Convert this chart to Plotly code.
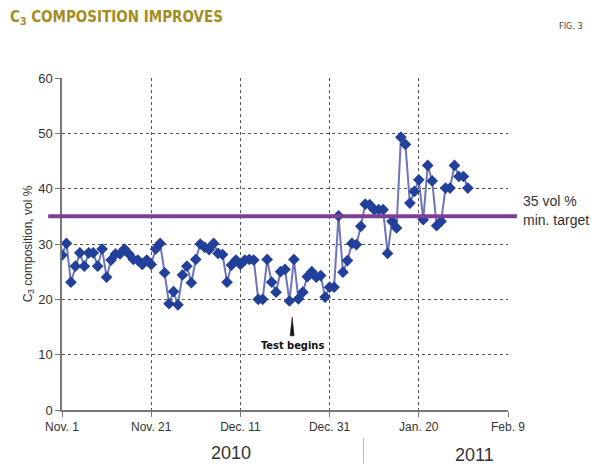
import plotly.graph_objects as go
import pandas as pd

start_date = "2010-11-01"
c3_values = [
    28.0, 30.1, 23.1, 26.0, 28.4, 26.0, 28.4, 28.4, 26.0, 29.1,
    24.0, 27.1, 28.2, 28.2, 29.1, 28.2, 27.2, 27.1, 26.3, 27.1,
    26.3, 29.1, 30.1, 24.8, 19.2, 21.4, 19.0, 24.4, 26.0, 23.0,
    27.2, 30.0, 29.4, 29.0, 30.1,
    28.3, 28.1, 23.1, 26.2, 27.1, 26.3, 27.1, 27.2, 27.1, 20.0,
    20.0, 27.2, 23.1, 21.3, 25.0, 25.4, 19.7, 27.2, 20.1, 21.3,
    24.1, 25.0, 24.0, 24.3, 20.4, 22.2, 22.2,
    35.1, 24.9, 27.0, 30.1, 29.9, 33.2, 37.2, 37.1, 36.2, 36.2,
    36.2, 28.3, 34.1, 32.9, 49.3, 48.0, 37.4, 39.5, 41.6, 34.4,
    44.2, 41.4, 33.3, 34.1, 40.1, 40.1, 44.2, 42.2, 42.2, 40.1,
]
dates = pd.date_range(start_date, periods=len(c3_values), freq="D")
days = list((dates - pd.Timestamp(start_date)).days)

tick_days = [0, 20, 40, 60, 80, 100]
tick_labels = ["Nov. 1", "Nov. 21", "Dec. 11", "Dec. 31", "Jan. 20", "Feb. 9"]
y_ticks = [0, 10, 20, 30, 40, 50, 60]
target = 35
test_start_day = 51.6
year_labels = ["2010", "2011"]

font_main = "Liberation Sans, Arial, sans-serif"
font_cond = "DejaVu Sans Condensed, Liberation Sans Narrow, Roboto Condensed, Roboto, sans-serif"

fig = go.Figure()
fig.add_trace(go.Scatter(
    x=days, y=c3_values, mode="lines+markers",
    line=dict(color="#6e74b8", width=2),
    marker=dict(symbol="diamond", size=9, color="#22409a"),
    hoverinfo="x+y", showlegend=False,
))

fig.update_layout(
    width=600, height=466,
    margin=dict(l=62, r=92, t=78, b=56),
    paper_bgcolor="white", plot_bgcolor="white",
    font=dict(family=font_main, color="#333333"),
    xaxis=dict(
        range=[0, 100], tickmode="array", tickvals=tick_days, ticktext=tick_labels,
        showgrid=True, gridcolor="#555555", griddash="dot", gridwidth=1,
        showline=True, linecolor="#777777", linewidth=1.5,
        ticks="outside", ticklen=5, tickcolor="#777777",
        tickfont=dict(size=12, color="#333333"), zeroline=False, automargin=False,
    ),
    yaxis=dict(
        range=[0, 60], tickmode="array", tickvals=y_ticks,
        showgrid=True, gridcolor="#555555", griddash="dot", gridwidth=1,
        showline=True, linecolor="#777777", linewidth=1.5,
        ticks="outside", ticklen=5, tickcolor="#777777",
        tickfont=dict(size=13, color="#333333"), zeroline=False, automargin=False,
        title=dict(text="C<sub>3</sub> composition, vol %", font=dict(size=12, color="#333333"), standoff=3),
    ),
)

# Target line
fig.add_shape(type="line", xref="paper", yref="y", x0=-0.031, x1=1.02, y0=target, y1=target,
              line=dict(color="#7d3f98", width=4), layer="above")
fig.add_annotation(xref="paper", yref="y", x=1.03, y=target + 1.0, xanchor="left", yanchor="bottom",
                   text="35 vol %", showarrow=False, font=dict(size=14, color="#333333"))
fig.add_annotation(xref="paper", yref="y", x=1.03, y=target + 1.2, xanchor="left", yanchor="top",
                   text="min. target", showarrow=False, font=dict(size=14, color="#333333"))

# Test begins wedge and label
fig.add_shape(type="path", xref="x", yref="y",
              path=f"M {test_start_day-0.45},13.4 L {test_start_day+0.45},13.4 L {test_start_day},16.8 Z",
              fillcolor="#111111", line=dict(color="#111111", width=0.5))
fig.add_annotation(x=test_start_day, y=11.6, text="<b>Test begins</b>", showarrow=False,
                   font=dict(size=11, color="#111111", family=font_cond))

# Title and figure label
fig.add_annotation(xref="paper", yref="paper", x=-0.121, y=1.183, xanchor="left", yanchor="middle",
                   text="<b>C<sub>3</sub> COMPOSITION IMPROVES</b>", showarrow=False,
                   font=dict(size=15, color="#a58d1f", family=font_cond))
fig.add_annotation(xref="paper", yref="paper", x=1.141, y=1.157, xanchor="center", yanchor="middle",
                   text="FIG. 3", showarrow=False, font=dict(size=9, color="#444444", family=font_cond))

# Year labels and divider
fig.add_annotation(xref="paper", yref="paper", x=0.38, y=-0.13, xanchor="center", yanchor="middle",
                   text=year_labels[0], showarrow=False, font=dict(size=18, color="#333333"))
fig.add_annotation(xref="paper", yref="paper", x=0.926, y=-0.136, xanchor="center", yanchor="middle",
                   text=year_labels[1], showarrow=False, font=dict(size=18, color="#333333"))
fig.add_shape(type="line", xref="paper", yref="paper", x0=0.676, x1=0.676, y0=-0.084, y1=-0.162,
              line=dict(color="#bbbbbb", width=1))

fig.write_html("out.html", config={"displayModeBar": False},
               post_script="document.body.style.margin='0';document.body.style.overflow='hidden';")
